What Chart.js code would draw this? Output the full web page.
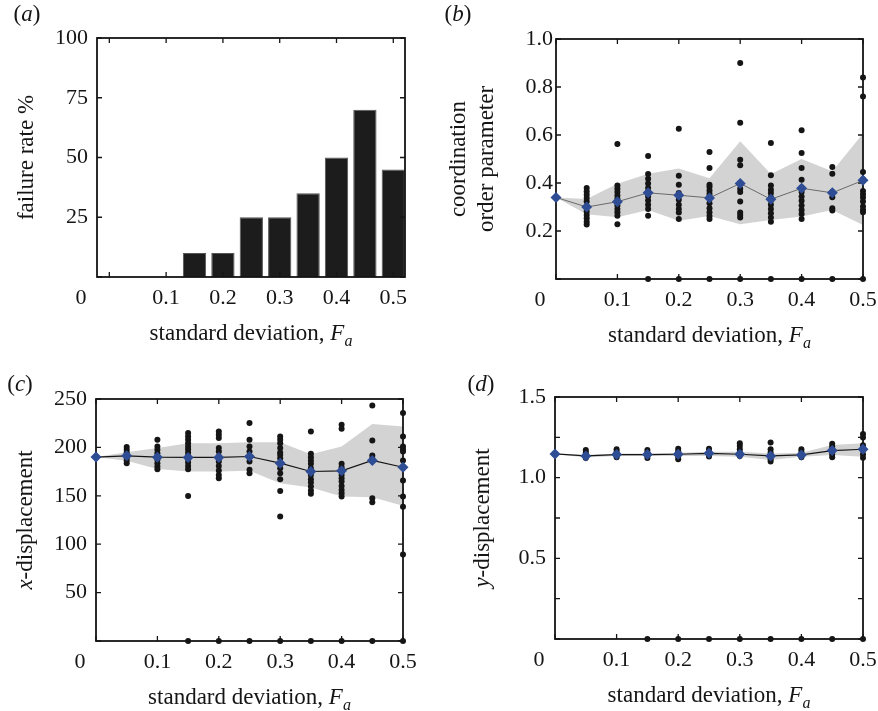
<!DOCTYPE html>
<html lang="en">
<head>
<meta charset="UTF-8">
<title>Failure rate and displacement vs standard deviation</title>
<script src="https://cdn.jsdelivr.net/npm/chart.js"></script>
<style>
    body { margin: 0; background: #fff; }
    canvas { position: absolute; }
</style>
</head>
<body>
<canvas id="panelA" width="440" height="355" style="left:0;top:0"></canvas>
<canvas id="panelB" width="438" height="355" style="left:440px;top:0"></canvas>
<canvas id="panelC" width="440" height="356" style="left:0;top:355px"></canvas>
<canvas id="panelD" width="438" height="356" style="left:440px;top:355px"></canvas>

<script>
// standard deviation levels (x values)
const sdLevels = [0, 0.05, 0.1, 0.15, 0.2, 0.25, 0.3, 0.35, 0.4, 0.45, 0.5];
const barLevels = [0.05, 0.1, 0.15, 0.2, 0.25, 0.3, 0.35, 0.4, 0.45, 0.5];
const failureRate = [0, 0, 10, 10, 25, 25, 35, 50, 70, 45];

// tick values
const sdTicks = [0, 0.1, 0.2, 0.3, 0.4, 0.5];
const failureTicks = [0, 25, 50, 75, 100];
const orderTicks = [0, 0.2, 0.4, 0.6, 0.8, 1.0];
const xdispTicks = [0, 50, 100, 150, 200, 250];
const ydispTicks = [0, 0.25, 0.5, 0.75, 1.0, 1.25, 1.5];

// (b) coordination order parameter
const orderMean  = [0.34, 0.30, 0.322, 0.359, 0.349, 0.338, 0.398, 0.332, 0.378, 0.359, 0.411];
const orderUpper = [0.34, 0.333, 0.397, 0.439, 0.46, 0.42, 0.574, 0.437, 0.50, 0.449, 0.606];
const orderLower = [0.34, 0.27, 0.257, 0.288, 0.243, 0.263, 0.228, 0.246, 0.26, 0.288, 0.225];
const orderRuns = [
    [0.34],
    [0.379, 0.365, 0.351, 0.337, 0.323, 0.302, 0.281, 0.267, 0.253, 0.239, 0.227],
    [0.563, 0.39, 0.376, 0.362, 0.348, 0.334, 0.32, 0.306, 0.292, 0.278, 0.264, 0.228],
    [0.513, 0.437, 0.418, 0.398, 0.379, 0.362, 0.344, 0.327, 0.309, 0.292, 0.264, 0],
    [0.626, 0.43, 0.393, 0.358, 0.33, 0.309, 0.292, 0.277, 0.25, 0],
    [0.529, 0.462, 0.393, 0.383, 0.369, 0.355, 0.344, 0.316, 0.295, 0.278, 0.263, 0.25, 0],
    [0.9, 0.651, 0.497, 0.474, 0.4, 0.376, 0.362, 0.323, 0.277, 0.267, 0.256, 0],
    [0.567, 0.432, 0.39, 0.372, 0.358, 0.341, 0.327, 0.309, 0.292, 0.274, 0.256, 0.239, 0],
    [0.62, 0.525, 0.462, 0.414, 0.381, 0.362, 0.344, 0.326, 0.306, 0.288, 0.271, 0.25, 0],
    [0.467, 0.439, 0.362, 0.341, 0.295, 0.285, 0],
    [0.84, 0.76, 0.446, 0.416, 0.367, 0.353, 0.34, 0.323, 0.302, 0.288, 0.278, 0]
];

// (c) x-displacement
const xdispMean  = [190, 191.3, 189.9, 189.6, 189.6, 190.6, 183.7, 175.1, 175.8, 186.5, 179.5];
const xdispUpper = [190, 195.1, 199.3, 204.4, 204.4, 205.4, 205.4, 193, 201, 224.1, 221.7];
const xdispLower = [190, 186.1, 177.8, 175.1, 175.1, 175.8, 163, 158.5, 149.2, 148.5, 139.8];
const xdispRuns = [
    [190],
    [200.3, 197.5, 194.8, 192, 189.2, 186.5, 183.7],
    [207.9, 201, 197.5, 194, 190.6, 187.2, 183.7, 180.2, 177.5],
    [214.8, 211.3, 207.9, 204.4, 201, 198.2, 194.8, 191.3, 187.8, 184.4, 180.9, 177.5, 149.9, 0],
    [216.5, 213, 209.6, 199.3, 195.8, 190.6, 185.4, 180.9, 176.1, 171.6, 168.2, 0],
    [225.1, 207.9, 201, 195.8, 190.6, 185.4, 176.8, 173.3, 0],
    [211.3, 207.9, 204.4, 199.3, 194.8, 192.3, 188.9, 183.7, 178.5, 173.3, 167.1, 155, 128.5, 0],
    [216.5, 193.4, 189.9, 186.5, 183, 178.5, 171.6, 167.1, 163.7, 159.5, 155.4, 152, 0],
    [223.4, 219.3, 183, 179.5, 171.6, 168.2, 164.7, 160.2, 156.1, 152.6, 149.2, 0],
    [243.4, 207.2, 191.6, 188.2, 147.4, 143.3, 0],
    [235.5, 211.3, 201, 198.2, 195.8, 186.5, 165.7, 149.2, 138.8, 89.4, 0]
];

// (d) y-displacement
const ydispMean  = [1.147, 1.135, 1.143, 1.143, 1.145, 1.151, 1.145, 1.135, 1.141, 1.168, 1.176];
const ydispUpper = [1.147, 1.14, 1.15, 1.15, 1.155, 1.161, 1.161, 1.15, 1.155, 1.202, 1.213];
const ydispLower = [1.147, 1.125, 1.135, 1.135, 1.135, 1.134, 1.13, 1.11, 1.13, 1.14, 1.13];
const ydispRuns = [
    [1.147],
    [1.172, 1.156, 1.139, 1.122],
    [1.176, 1.16, 1.143, 1.127],
    [1.172, 1.156, 1.139, 1.122, 0],
    [1.18, 1.164, 1.145, 1.131, 1.114, 0],
    [1.18, 1.164, 1.147, 1.131, 0],
    [1.214, 1.197, 1.176, 1.156, 1.135, 0],
    [1.218, 1.176, 1.156, 1.135, 1.114, 1.10, 0],
    [1.176, 1.16, 1.143, 1.127, 0],
    [1.21, 1.193, 1.176, 1.16, 1.143, 1.127, 0],
    [1.27, 1.249, 1.201, 1.185, 1.145, 1.124, 0]
];

const SERIF = "'Liberation Serif', 'DejaVu Serif', serif";
const INK = '#151515';
const BAND = '#d3d3d3';
const DIAMOND = '#2f4d94';

function fontOf(r) {
    return (r.it ? 'italic ' : '') + (r.size || 23) + 'px ' + SERIF;
}

// draws a sequence of text runs (mixed italic / subscript), centred on cx, cy
function drawRuns(ctx, runs, cx, cy, angle) {
    ctx.save();
    ctx.translate(cx, cy);
    ctx.rotate(angle || 0);
    ctx.fillStyle = INK;
    ctx.textBaseline = 'middle';
    ctx.textAlign = 'left';
    let total = 0;
    runs.forEach(r => { ctx.font = fontOf(r); r.w = ctx.measureText(r.t).width; total += r.w; });
    let x = -total / 2;
    runs.forEach(r => { ctx.font = fontOf(r); ctx.fillText(r.t, x, r.dy || 0); x += r.w; });
    ctx.restore();
}

function drawFrame(chart) {
    const { ctx, chartArea: a, scales: { x, y } } = chart;
    ctx.save();
    ctx.strokeStyle = INK;
    ctx.lineWidth = 1.8;
    ctx.strokeRect(a.left, a.top, a.right - a.left, a.bottom - a.top);
    ctx.lineWidth = 1.3;
    ctx.beginPath();
    x.ticks.forEach(t => {
        const px = x.getPixelForValue(t.value);
        ctx.moveTo(px, a.bottom); ctx.lineTo(px, a.bottom - 5);
        ctx.moveTo(px, a.top); ctx.lineTo(px, a.top + 5);
    });
    y.ticks.forEach(t => {
        const py = y.getPixelForValue(t.value);
        ctx.moveTo(a.left, py); ctx.lineTo(a.left + 5, py);
        ctx.moveTo(a.right, py); ctx.lineTo(a.right - 5, py);
    });
    ctx.stroke();
    ctx.restore();
}

const decor = {
    id: 'decor',
    afterDatasetDraw(chart, args, opts) {
        if (args.index === opts.frameAfter) drawFrame(chart);
    },
    afterDraw(chart, args, opts) {
        const { ctx, chartArea: a } = chart;
        const xTitle = [{ t: 'standard deviation, ' }, { t: 'F', it: true }, { t: 'a', it: true, size: 16, dy: 8 }];
        drawRuns(ctx, xTitle, (a.left + a.right) / 2, a.bottom + opts.xTitleGap);
        opts.yTitle.forEach((line, i) => {
            drawRuns(ctx, line, a.left - opts.yTitleGap[i], (a.top + a.bottom) / 2, -Math.PI / 2);
        });
        drawRuns(ctx, [{ t: '(' }, { t: opts.letter, it: true }, { t: ')' }], opts.letterPos[0], opts.letterPos[1]);
        // shared origin label
        drawRuns(ctx, [{ t: '0', size: 22 }], a.left - 16, a.bottom + 21);
    }
};
Chart.register(decor);

function fixedAxes(yWidth, xHeight) {
    return {
        y: s => { s.width = yWidth; s.paddingTop = 0; s.paddingBottom = 0; },
        x: s => { s.height = xHeight; s.paddingLeft = 0; s.paddingRight = 0; }
    };
}

function makeScales(cfg) {
    const fit = fixedAxes(cfg.yWidth, cfg.xHeight);
    const tickFont = { family: SERIF, size: 22 };
    return {
        x: {
            type: 'linear', min: cfg.xMin, max: cfg.xMax, offset: false,
            grid: { display: false, drawTicks: false, offset: false },
            border: { display: false },
            afterBuildTicks: s => { s.ticks = sdTicks.map(v => ({ value: v })); },
            afterFit: fit.x,
            ticks: {
                padding: 8, color: INK, font: tickFont, maxRotation: 0, autoSkip: false,
                callback: v => (v === 0 ? '' : v.toFixed(1))
            }
        },
        y: {
            min: cfg.yMin, max: cfg.yMax,
            grid: { display: false, drawTicks: false },
            border: { display: false },
            afterBuildTicks: s => { s.ticks = cfg.yTicks.map(v => ({ value: v })); },
            afterFit: fit.y,
            ticks: {
                padding: cfg.yPad, color: INK, font: tickFont, autoSkip: false,
                callback: cfg.yLabel
            }
        }
    };
}

const baseOptions = {
    responsive: false,
    animation: false,
    devicePixelRatio: 1,
    events: []
};

// (a) failure rate bars
new Chart(document.getElementById('panelA'), {
    type: 'bar',
    data: {
        datasets: [{
            data: barLevels.map((x, i) => ({ x: x, y: failureRate[i] })),
            backgroundColor: '#1c1c1c',
            borderColor: '#555',
            borderWidth: 1,
            categoryPercentage: 1,
            barPercentage: 0.82
        }]
    },
    options: {
        ...baseOptions,
        layout: { padding: { left: 0, top: 38, right: 35, bottom: 0 } },
        plugins: {
            legend: { display: false }, tooltip: { enabled: false },
            decor: {
                frameAfter: 0, letter: 'a', letterPos: [27, 15], xTitleGap: 57,
                yTitle: [[{ t: 'failure rate %' }]], yTitleGap: [70]
            }
        },
        scales: makeScales({
            xMin: -0.0217, xMax: 0.5206, yMin: 0, yMax: 100, yTicks: failureTicks,
            yWidth: 97, xHeight: 78, yPad: 9,
            yLabel: v => (v === 0 ? '' : String(v))
        })
    }
});

function scatterPanel(id, cfg) {
    const mean = cfg.mean, runs = cfg.runs;
    const dots = [];
    runs.forEach((col, i) => col.forEach(v => dots.push({ x: sdLevels[i], y: v })));
    return new Chart(document.getElementById(id), {
        type: 'line',
        data: {
            datasets: [
                {
                    data: sdLevels.map((x, i) => ({ x: x, y: mean[i] })),
                    borderColor: cfg.lineColor, borderWidth: cfg.lineWidth,
                    pointStyle: 'rectRot', pointRadius: 5.5, pointBorderWidth: 0,
                    pointBackgroundColor: DIAMOND, fill: false, tension: 0, clip: false, order: 0
                },
                {
                    data: dots, showLine: false,
                    pointRadius: 3, pointBorderWidth: 0, pointBackgroundColor: INK,
                    clip: false, order: 1
                },
                {
                    data: sdLevels.map((x, i) => ({ x: x, y: cfg.upper[i] })),
                    borderWidth: 0, pointRadius: 0, fill: '+1', backgroundColor: BAND, order: 2
                },
                {
                    data: sdLevels.map((x, i) => ({ x: x, y: cfg.lower[i] })),
                    borderWidth: 0, pointRadius: 0, fill: false, order: 3
                }
            ]
        },
        options: {
            ...baseOptions,
            layout: { padding: { left: 0, top: cfg.top, right: cfg.right, bottom: 0 } },
            plugins: {
                legend: { display: false }, tooltip: { enabled: false },
                decor: {
                    frameAfter: 2, letter: cfg.letter, letterPos: cfg.letterPos, xTitleGap: 57,
                    yTitle: cfg.yTitle, yTitleGap: cfg.yTitleGap
                }
            },
            scales: makeScales({
                xMin: 0, xMax: 0.5, yMin: cfg.yMin, yMax: cfg.yMax, yTicks: cfg.yTicks,
                yWidth: cfg.yWidth, xHeight: cfg.xHeight, yPad: cfg.yPad, yLabel: cfg.yLabel
            })
        }
    });
}

// (b) coordination order parameter
scatterPanel('panelB', {
    mean: orderMean, upper: orderUpper, lower: orderLower, runs: orderRuns,
    lineColor: '#6a6a6a', lineWidth: 1,
    yMin: 0, yMax: 1, yTicks: orderTicks, yLabel: v => (v === 0 ? '' : v.toFixed(1)),
    top: 39, right: 15, yWidth: 116, xHeight: 76, yPad: 3,
    letter: 'b', letterPos: [18, 15],
    yTitle: [[{ t: 'coordination' }], [{ t: 'order parameter' }]], yTitleGap: [97, 69]
});

// (c) x-displacement
scatterPanel('panelC', {
    mean: xdispMean, upper: xdispUpper, lower: xdispLower, runs: xdispRuns,
    lineColor: INK, lineWidth: 1.2,
    yMin: 0, yMax: 250, yTicks: xdispTicks, yLabel: v => (v === 0 ? '' : String(v)),
    top: 44, right: 37, yWidth: 96, xHeight: 70, yPad: 9,
    letter: 'c', letterPos: [20, 30],
    yTitle: [[{ t: 'x', it: true }, { t: '-displacement' }]], yTitleGap: [70]
});

// (d) y-displacement
scatterPanel('panelD', {
    mean: ydispMean, upper: ydispUpper, lower: ydispLower, runs: ydispRuns,
    lineColor: INK, lineWidth: 1.2,
    yMin: 0, yMax: 1.5, yTicks: ydispTicks,
    yLabel: v => (v === 0 || Math.abs(v * 2 - Math.round(v * 2)) > 1e-6 ? '' : v.toFixed(1)),
    top: 42, right: 15, yWidth: 115, xHeight: 72, yPad: 9,
    letter: 'd', letterPos: [41, 30],
    yTitle: [[{ t: 'y', it: true }, { t: '-displacement' }]], yTitleGap: [72]
});
</script>
</body>
</html>
